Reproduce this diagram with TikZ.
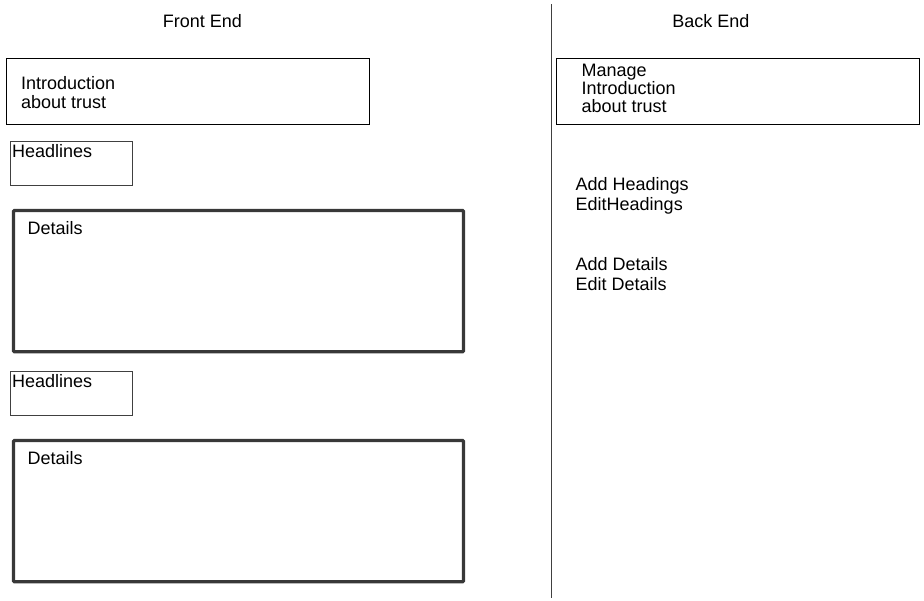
\documentclass[tikz,border=0pt]{standalone}
\usepackage{fontspec}
\setmainfont{Liberation Sans}
\begin{document}
\begin{tikzpicture}[x=1pt,y=-1pt,
  lbl/.style={inner sep=0pt, anchor=base west, align=left, font=\fontsize{18}{18.2}\selectfont},
  ttl/.style={inner sep=0pt, anchor=base, font=\fontsize{18}{18}\selectfont},
  thinbox/.style={draw=black, line width=1pt, inner sep=0pt, outer sep=0pt, anchor=north west},
  graybox/.style={draw=black!75, line width=1pt, inner sep=0pt, outer sep=0pt, anchor=north west},
  thickbox/.style={draw=black!78, line width=3.3pt, rounded corners=1pt, inner sep=0pt, outer sep=0pt, anchor=north west}]
\useasboundingbox (0,0) rectangle (924,600);
% divider
\coordinate (dtop) at (551.5,4);
\coordinate (dbot) at (551.5,598);
\draw[black!75, line width=1pt] (dtop) -- (dbot);
% titles
\node[ttl] (fe) at (202.5,27.5) {Front End};
\node[ttl] (be) at (711,27.5) {Back End};
% front end boxes
\node[thinbox, minimum width=363pt, minimum height=65.7pt] (intro) at (6.5,58.5) {};
\node[lbl] (introtxt) at (21,108) {Introduction\\about trust};
\node[graybox, minimum width=122pt, minimum height=44.7pt] (head1) at (10.5,141.2) {};
\node[lbl] (head1txt) at (12,157.5) {Headlines};
\node[thickbox, minimum width=450pt, minimum height=141.3pt] (det1) at (13.5,210.4) {};
\node[lbl] (det1txt) at (27.5,234) {Details};
\node[graybox, minimum width=122pt, minimum height=44.7pt] (head2) at (10.5,371.2) {};
\node[lbl] (head2txt) at (12,387.5) {Headlines};
\node[thickbox, minimum width=450pt, minimum height=141.3pt] (det2) at (13.5,440.4) {};
\node[lbl] (det2txt) at (27.5,464.2) {Details};
% back end
\node[thinbox, minimum width=363pt, minimum height=65.7pt] (manage) at (556.7,58.5) {};
\node[lbl] (managetxt) at (581.5,112.8) {Manage\\Introduction\\about trust};
\node[lbl, font=\fontsize{18}{19.6}\selectfont] (headings) at (575.5,210.2) {Add Headings\\EditHeadings};
\node[lbl, font=\fontsize{18}{19.6}\selectfont] (details) at (575.5,290.2) {Add Details\\Edit Details};
\end{tikzpicture}
\end{document}
